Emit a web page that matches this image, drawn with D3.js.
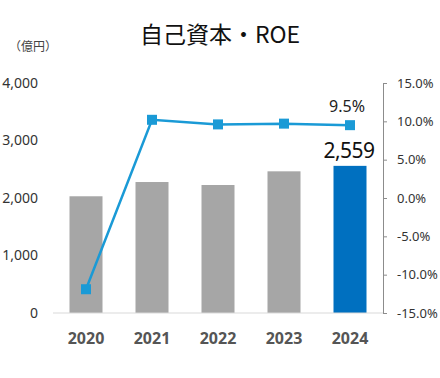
<!DOCTYPE html>
<html>
<head>
<meta charset="utf-8">
<script src="https://cdn.jsdelivr.net/npm/d3@7"></script>
<style>
  body { margin: 0; background: #fff; }
  svg text { font-family: "Noto Sans CJK JP", "Noto Sans", sans-serif; }
</style>
</head>
<body>
<svg id="chart" width="440" height="378"></svg>
<script>
// data
const years = ['2020', '2021', '2022', '2023', '2024'];
const equity = [2030, 2278, 2226, 2464, 2559]; // 億円
const roe = [-11.9, 10.2, 9.6, 9.7, 9.5]; // %
const leftTicks = [0, 1000, 2000, 3000, 4000];
const rightTicks = [-15, -10, -5, 0, 5, 10, 15];

const svg = d3.select('#chart');

const x = d3.scaleBand().domain(years).range([53, 383]).paddingInner(0.5).paddingOuter(0.25);
const yL = d3.scaleLinear().domain([0, 4000]).range([313, 83]);
const yR = d3.scaleLinear().domain([-15, 15]).range([313, 83]);

// title
svg.append('text')
  .attr('x', 220).attr('y', 43)
  .attr('text-anchor', 'middle')
  .style('font-size', '23px')
  .style('fill', '#111')
  .text('自己資本・ROE');

svg.append('text')
  .attr('x', 9).attr('y', 51)
  .style('font-size', '12px')
  .style('fill', '#444')
  .text('（億円）');

// left axis (labels only)
svg.append('g')
  .attr('transform', 'translate(38,0)')
  .call(d3.axisLeft(yL).tickValues(leftTicks).tickSize(0).tickPadding(0).tickFormat(d3.format(',')))
  .call(g => g.select('.domain').remove())
  .call(g => g.selectAll('text')
    .style('font-size', '14px').style('fill', '#333')
    .style('font-family', '"Noto Sans", sans-serif'));

// right axis
svg.append('g')
  .attr('transform', 'translate(383,0)')
  .call(d3.axisRight(yR).tickValues(rightTicks).tickSize(4).tickPadding(10).tickFormat(d => d.toFixed(1) + '%'))
  .call(g => g.select('.domain').attr('stroke', '#8c8c8c'))
  .call(g => g.selectAll('.tick line').attr('stroke', '#8c8c8c'))
  .call(g => g.selectAll('text')
    .style('font-size', '13px').style('fill', '#333')
    .style('font-family', '"Noto Sans", sans-serif'));

// bars
svg.selectAll('.bar')
  .data(years)
  .enter()
  .append('rect')
  .classed('bar', true)
  .attr('x', d => x(d))
  .attr('width', x.bandwidth())
  .attr('y', (d, i) => yL(equity[i]))
  .attr('height', (d, i) => yL(0) - yL(equity[i]))
  .style('fill', (d, i) => i === years.length - 1 ? '#0070c0' : '#a6a6a6');

// baseline
svg.append('line')
  .attr('x1', 53).attr('x2', 383)
  .attr('y1', yL(0)).attr('y2', yL(0))
  .attr('stroke', '#d9d9d9').attr('stroke-width', 1);

// x labels
svg.selectAll('.xlab')
  .data(years)
  .enter()
  .append('text')
  .classed('xlab', true)
  .attr('x', d => x(d) + x.bandwidth() / 2)
  .attr('y', 344)
  .attr('text-anchor', 'middle')
  .style('font-size', '16px')
  .style('font-weight', 'bold')
  .style('fill', '#555')
  .style('font-family', '"Noto Sans", sans-serif')
  .text(d => d);

// ROE line
const cx = d => x(d) + x.bandwidth() / 2;
svg.append('path')
  .datum(years)
  .attr('fill', 'none')
  .attr('stroke', '#1a9ad6')
  .attr('stroke-width', 2.5)
  .attr('d', d3.line().x(d => cx(d)).y((d, i) => yR(roe[i])));

svg.selectAll('.pt')
  .data(years)
  .enter()
  .append('rect')
  .classed('pt', true)
  .attr('x', d => cx(d) - 5)
  .attr('y', (d, i) => yR(roe[i]) - 5)
  .attr('width', 10).attr('height', 10)
  .style('fill', '#1a9ad6');

// value labels for latest year
const last = years.length - 1;
svg.append('text')
  .attr('x', cx(years[last]) - 3)
  .attr('y', 112)
  .attr('text-anchor', 'middle')
  .style('font-size', '16px')
  .style('fill', '#222')
  .style('font-family', '"Noto Sans", sans-serif')
  .text(roe[last].toFixed(1) + '%');

svg.append('text')
  .attr('x', cx(years[last]) - 1)
  .attr('y', yL(equity[last]) - 8)
  .attr('text-anchor', 'middle')
  .style('font-size', '21px')
  .style('fill', '#111')
  .style('font-family', '"Noto Sans", sans-serif')
  .style('letter-spacing', '-0.5px')
  .text(d3.format(',')(equity[last]));
</script>
</body>
</html>
